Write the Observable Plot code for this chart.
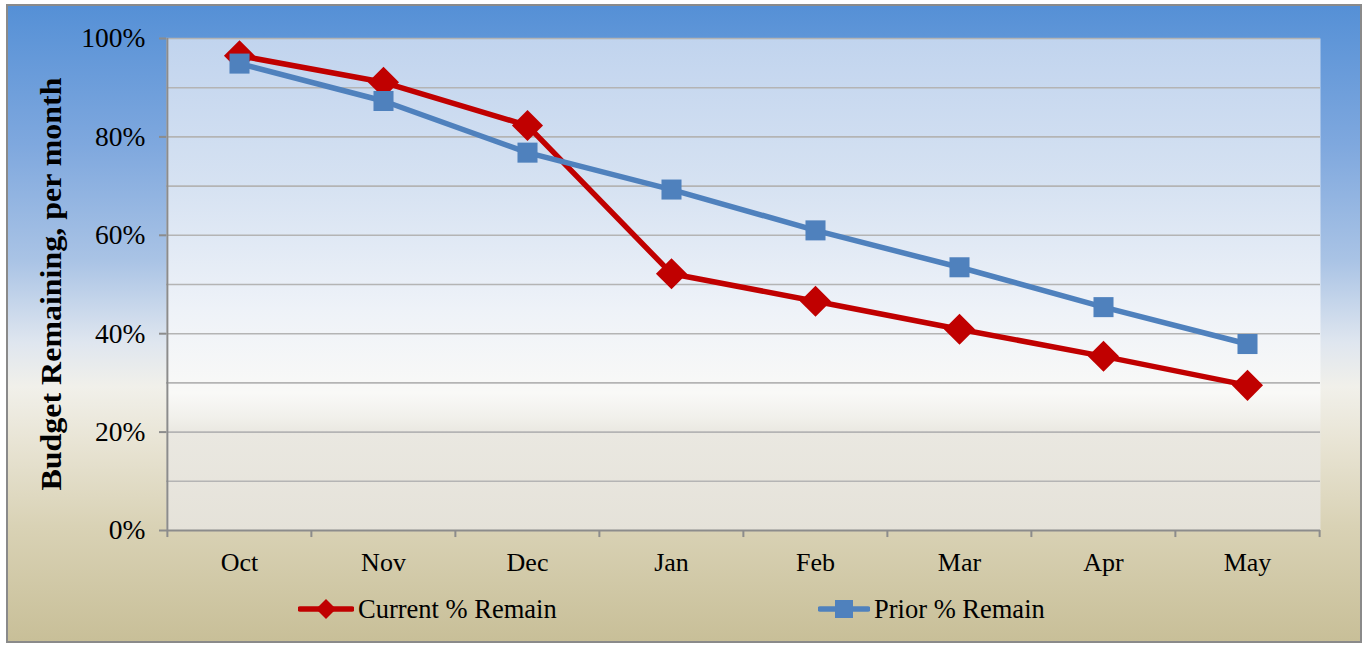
<!DOCTYPE html>
<html>
<head>
<meta charset="utf-8">
<script src="https://cdn.jsdelivr.net/npm/d3@7"></script>
<script src="https://cdn.jsdelivr.net/npm/@observablehq/plot@0.6"></script>
<style>
  html, body { margin: 0; padding: 0; background: #ffffff; }
  #chart {
    position: absolute; left: 6px; top: 4px; width: 1356px; height: 639px;
    box-sizing: border-box; border: 2px solid #8a8a8a;
    background: linear-gradient(to bottom, #5590d6 0%, #7fa8de 22%, #a9c3e5 40%, #dfe6ef 53%, #f1f0ea 60%, #e9e5d6 68%, #d9d2b5 82%, #c8bf98 100%);
    font-family: "Liberation Serif", "Times New Roman", serif;
  }
  #plot { position: absolute; left: 0; top: 0; }
  .leg { position: absolute; top: 586px; height: 34px; display: flex; align-items: center; font-size: 26.5px; color: #000; white-space: nowrap; }
  .leg svg { margin-right: 4px; }
</style>
</head>
<body>
<svg width="0" height="0" style="position:absolute">
  <defs>
    <linearGradient id="plotbg" x1="0" y1="0" x2="0" y2="1">
      <stop offset="0%" stop-color="#c1d4ee"/>
      <stop offset="30%" stop-color="#d6e2f2"/>
      <stop offset="55%" stop-color="#eef2f8"/>
      <stop offset="72%" stop-color="#f9f9f7"/>
      <stop offset="77%" stop-color="#f1f0eb"/>
      <stop offset="80%" stop-color="#eae8e1"/>
      <stop offset="100%" stop-color="#e5e2d9"/>
    </linearGradient>
  </defs>
</svg>
<div id="chart">
  <div id="plot"></div>
  <div class="leg" style="left:290px">
    <svg width="56" height="30"><line x1="2" y1="15" x2="54" y2="15" stroke="#c00000" stroke-width="5.5" stroke-linecap="round"/><path d="M28,5 L38,15 L28,25 L18,15 Z" fill="#c00000"/></svg>
    <span>Current % Remain</span>
  </div>
  <div class="leg" style="left:810px">
    <svg width="52" height="30"><line x1="2" y1="15" x2="50" y2="15" stroke="#4f81bd" stroke-width="5.5" stroke-linecap="round"/><rect x="17" y="6" width="18" height="18" fill="#4f81bd"/></svg>
    <span>Prior % Remain</span>
  </div>
</div>
<script>
const months = ["Oct", "Nov", "Dec", "Jan", "Feb", "Mar", "Apr", "May"];
const current = [0.965, 0.911, 0.823, 0.522, 0.466, 0.409, 0.354, 0.295];
const prior = [0.949, 0.873, 0.768, 0.693, 0.610, 0.535, 0.454, 0.379];
const yTicks = [0, 0.2, 0.4, 0.6, 0.8, 1.0];
const gridValues = [0.1, 0.2, 0.3, 0.4, 0.5, 0.6, 0.7, 0.8, 0.9, 1.0];
const yTitle = "Budget Remaining, per month";

const data = months.map((m, i) => ({month: m, current: current[i], prior: prior[i]}));

const W = 1352, H = 580, ML = 158, MR = 40, MT = 32, MB = 56;
const bw = (W - ML - MR) / months.length;
const axisColor = "#8c8c8c";

const chart = Plot.plot({
  width: W, height: H,
  marginLeft: ML, marginRight: MR, marginTop: MT, marginBottom: MB,
  style: {background: "transparent", fontFamily: "'Liberation Serif', 'Times New Roman', serif", fontSize: "27px", color: "#000", overflow: "visible"},
  x: {type: "band", domain: months, padding: 0},
  y: {domain: [0, 1]},
  marks: [
    Plot.frame({fill: "url(#plotbg)", stroke: null}),
    Plot.ruleY(gridValues, {stroke: "#b4b4b4", strokeWidth: 1.6}),
    Plot.ruleY([0], {stroke: axisColor, strokeWidth: 2}),
    Plot.ruleX([months[0]], {y1: 0, y2: 1, dx: -bw / 2, stroke: axisColor, strokeWidth: 2}),
    Plot.ruleX(months, {x: d => d, y1: 0, y2: -0.0143, dx: -bw / 2, stroke: axisColor, strokeWidth: 2}),
    Plot.ruleX([months[months.length - 1]], {x: d => d, y1: 0, y2: -0.0143, dx: bw / 2, stroke: axisColor, strokeWidth: 2}),
    Plot.axisY({ticks: yTicks, tickFormat: d3.format(".0%"), tickSize: 7, tickPadding: 14, stroke: axisColor, strokeWidth: 2, fill: "#000", fontSize: 27.5, label: null}),
    Plot.axisX({tickSize: 0, tickPadding: 22, fill: "#000", fontSize: 26, label: null}),
    Plot.text([yTitle], {frameAnchor: "left", dx: -115, dy: 206, rotate: -90, textAnchor: "start", text: d => d, fontWeight: "bold", fontSize: 29, fill: "#000"}),
    Plot.line(data, {x: "month", y: "current", stroke: "#c00000", strokeWidth: 5.5}),
    Plot.dot(data, {x: "month", y: "current", symbol: "diamond2", r: 14, fill: "#c00000", stroke: null}),
    Plot.line(data, {x: "month", y: "prior", stroke: "#4f81bd", strokeWidth: 5.5}),
    Plot.dot(data, {x: "month", y: "prior", symbol: "square", r: 11.3, fill: "#4f81bd", stroke: null})
  ]
});
document.getElementById("plot").appendChild(chart);
chart.querySelectorAll("text").forEach(t => {
  if (t.textContent === yTitle) { t.setAttribute("textLength", 413); t.setAttribute("lengthAdjust", "spacingAndGlyphs"); }
});
</script>
</body>
</html>
